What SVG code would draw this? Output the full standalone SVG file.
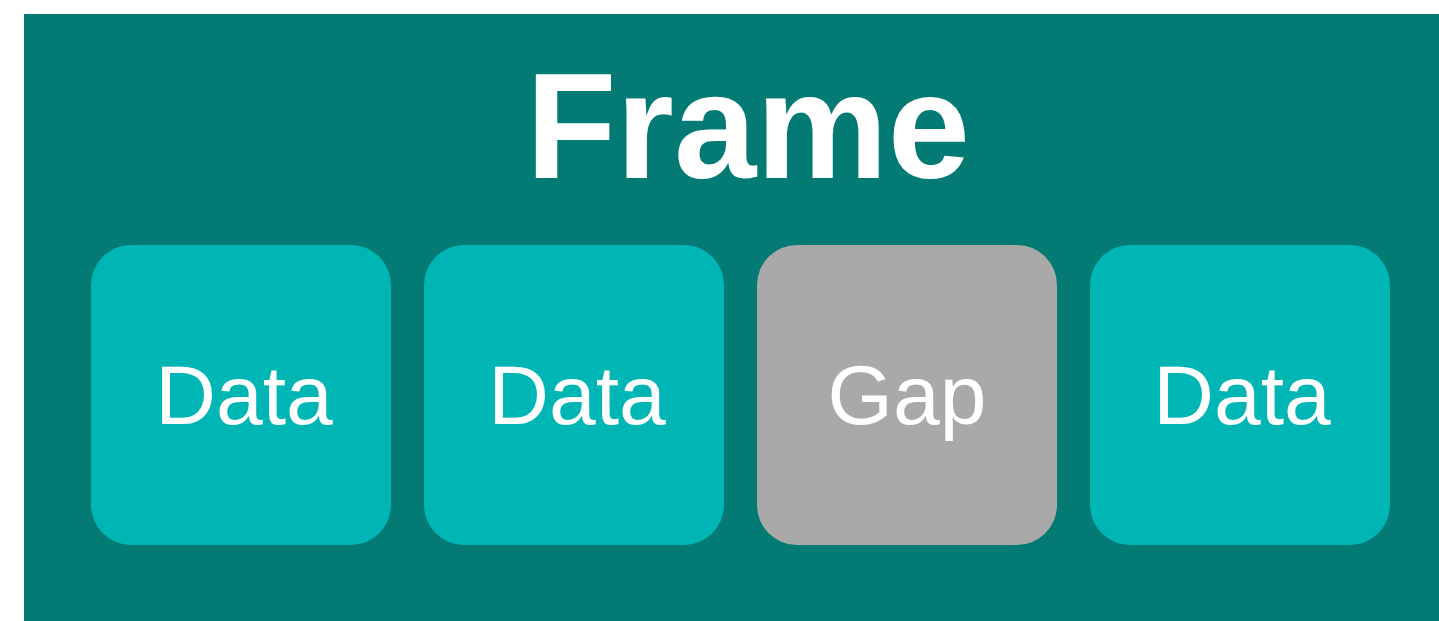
<svg xmlns="http://www.w3.org/2000/svg" width="1439" height="621" viewBox="0 0 1439 621">
<style>
.data{fill:#00b6b5}
.gap{fill:#a9a9a9}
.lbl{font-family:"Liberation Sans",Arial,sans-serif;font-size:84px;fill:#ffffff;text-anchor:middle}
.title{font-family:"Liberation Sans",Arial,sans-serif;font-size:151px;font-weight:bold;fill:#ffffff;text-anchor:middle}
</style>
<rect x="0" y="0" width="1439" height="621" fill="#ffffff"/>
<g id="frame">
<rect x="24" y="14" width="1415" height="607" fill="#037a74"/>
<text class="title" x="748" y="178" textLength="444" lengthAdjust="spacingAndGlyphs">Frame</text>
</g>
<g id="data1">
<rect class="data" x="91" y="245" width="300" height="300" rx="40" ry="40"/>
<text class="lbl" x="244" y="424">Data</text>
</g>
<g id="data2">
<rect class="data" x="424" y="245" width="300" height="300" rx="40" ry="40"/>
<text class="lbl" x="577" y="424">Data</text>
</g>
<g id="gap">
<rect class="gap" x="757" y="245" width="300" height="300" rx="40" ry="40"/>
<text class="lbl" x="907" y="424">Gap</text>
</g>
<g id="data4">
<rect class="data" x="1090" y="245" width="300" height="300" rx="40" ry="40"/>
<text class="lbl" x="1242" y="424">Data</text>
</g>
<g id="connectors"></g>
</svg>
